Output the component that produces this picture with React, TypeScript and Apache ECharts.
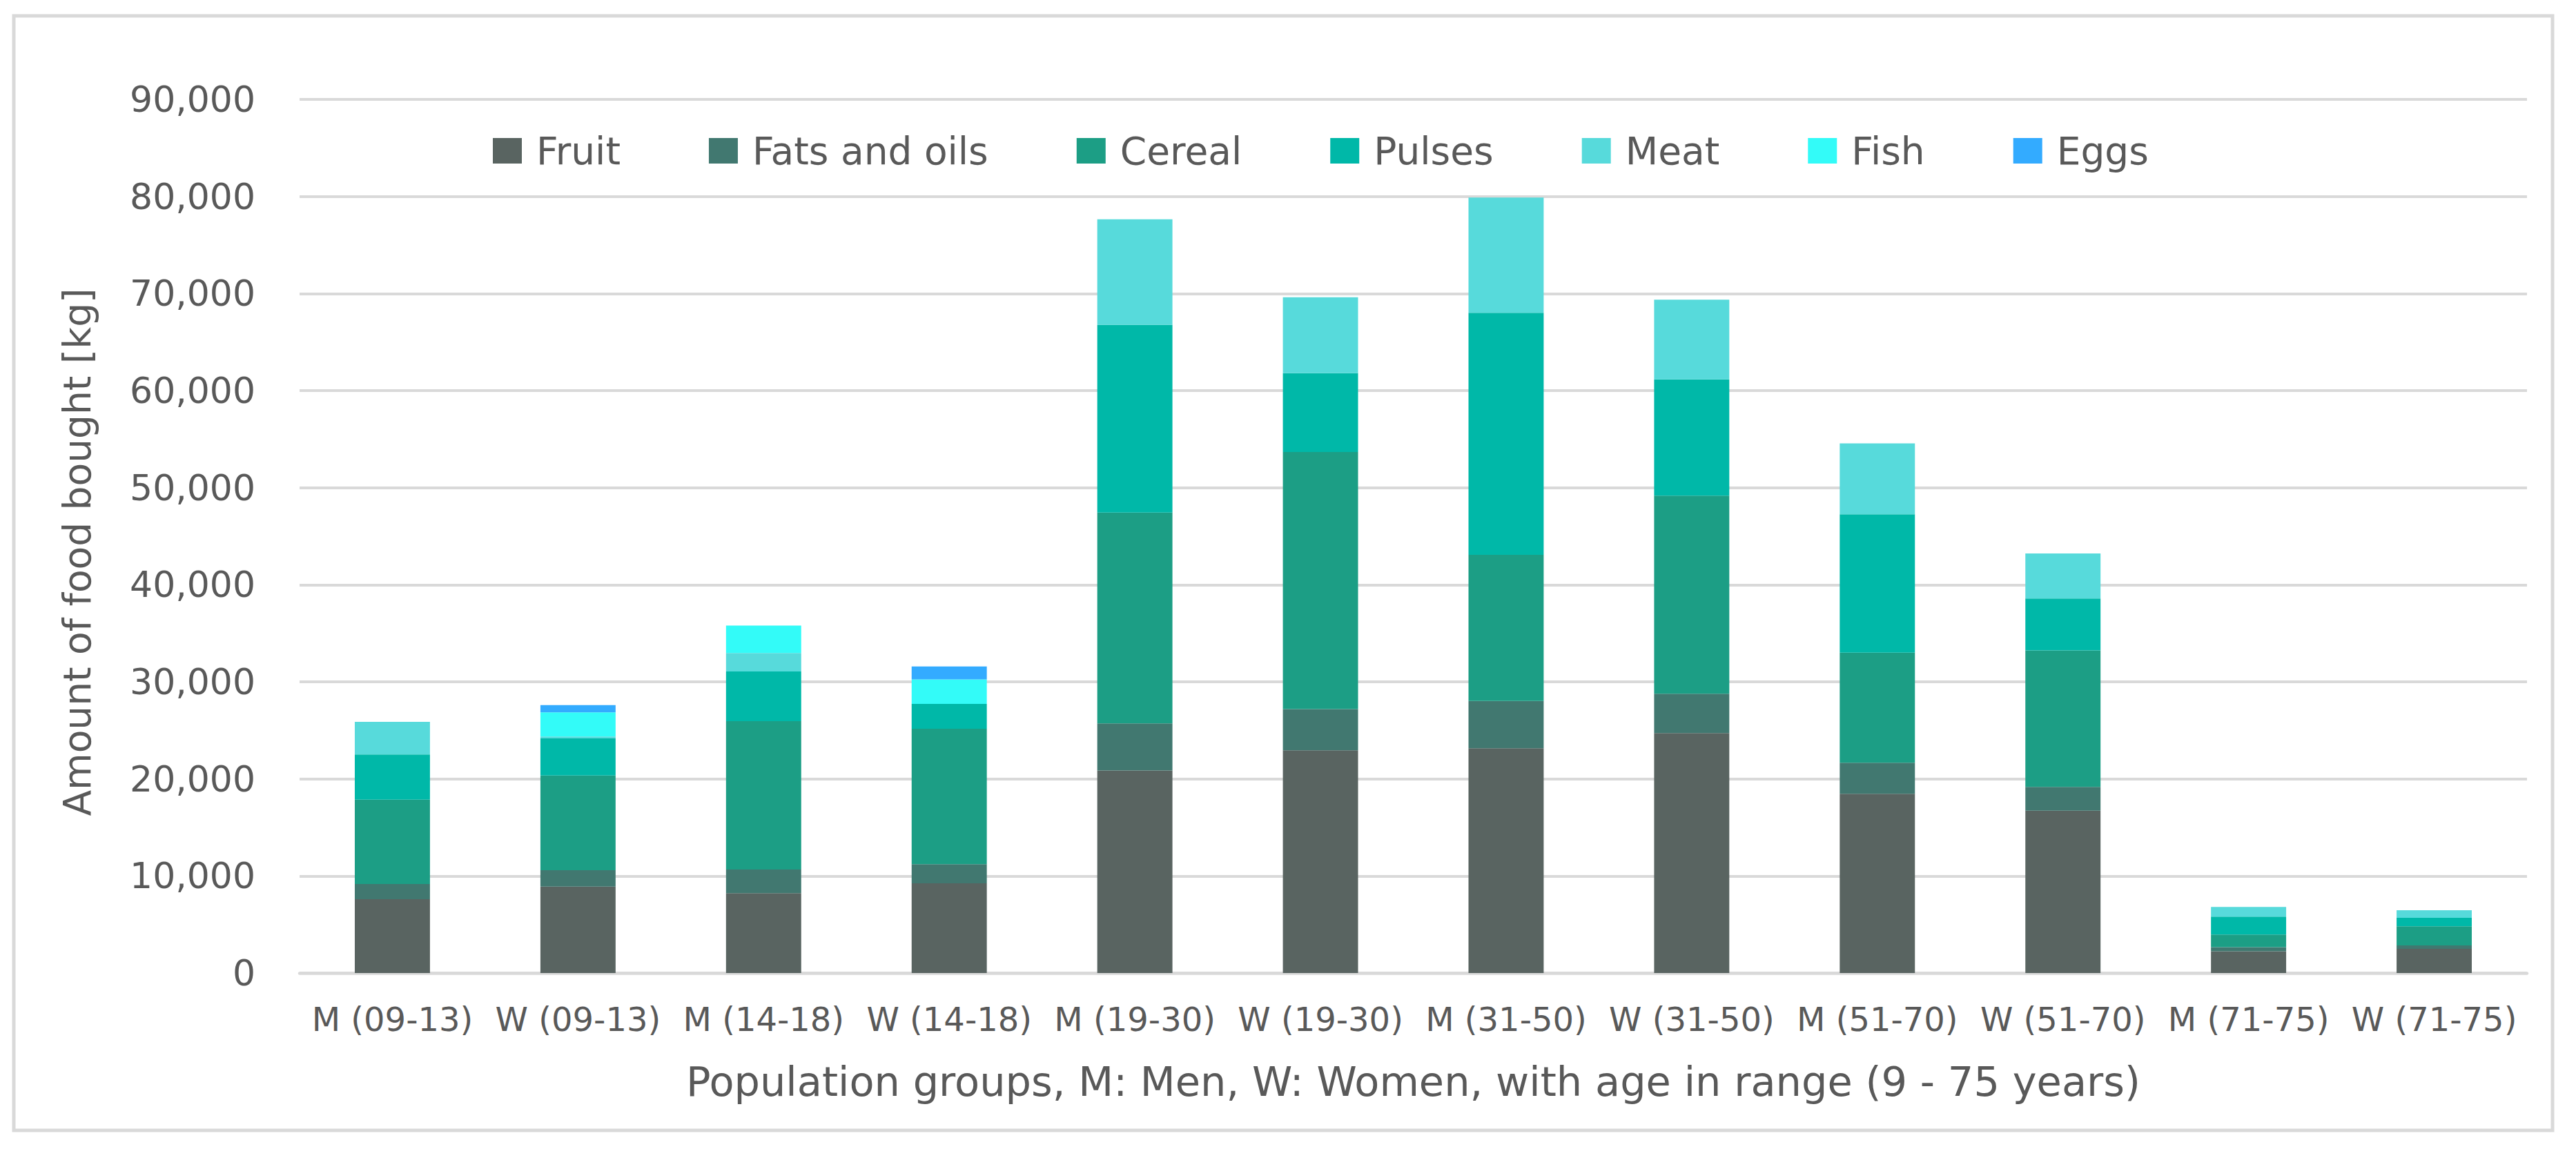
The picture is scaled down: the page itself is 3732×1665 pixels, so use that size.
import React, { useEffect, useRef } from "react";
import * as echarts from "echarts";

const categories = [
  "M (09-13)", "W (09-13)", "M (14-18)", "W (14-18)", "M (19-30)", "W (19-30)",
  "M (31-50)", "W (31-50)", "M (51-70)", "W (51-70)", "M (71-75)", "W (71-75)",
];
const fruit = [7600, 8900, 8230, 9250, 20870, 22950, 23150, 24720, 18470, 16730, 2240, 2480];
const fatsAndOils = [1570, 1690, 2440, 1970, 4840, 4250, 4880, 4060, 3190, 2440, 430, 360];
const cereal = [8700, 9760, 15280, 13940, 21730, 26470, 15050, 20390, 11340, 14060, 1300, 1970];
const pulses = [4650, 3820, 5120, 2560, 19340, 8130, 24940, 11980, 14250, 5360, 1850, 870];
const meat = [3350, 200, 1890, 0, 10860, 7820, 11870, 8210, 7320, 4640, 980, 790];
const fish = [0, 2480, 2830, 2520, 0, 0, 0, 0, 0, 0, 0, 0];
const eggs = [0, 750, 0, 1340, 0, 0, 0, 0, 0, 0, 0, 0];

const seriesNames = ["Fruit", "Fats and oils", "Cereal", "Pulses", "Meat", "Fish", "Eggs"];
const seriesData = [fruit, fatsAndOils, cereal, pulses, meat, fish, eggs];
const seriesColors = ["#596461", "#417870", "#1C9E85", "#00B8A8", "#57DADB", "#33FBF8", "#33ABFF"];

const yTicks = { min: 0, max: 90000, interval: 10000 };
const yTitle = "Amount of food bought [kg]";
const xTitle = "Population groups, M: Men, W: Women, with age in range (9 - 75 years)";

const FONT = "DejaVu Sans";
const TEXT = "#595959";
const GRID = "#D9D9D9";

export default function App() {
  const ref = useRef<HTMLDivElement>(null);
  useEffect(() => {
    if (!ref.current) return;
    const chart = echarts.init(ref.current, undefined, { renderer: "svg" });
    chart.setOption({
      animation: false,
      backgroundColor: "#ffffff",
      textStyle: { fontFamily: FONT },
      grid: { left: 434, right: 71, top: 144, bottom: 255, containLabel: false },
      legend: {
        data: seriesNames,
        left: 709,
        top: 186,
        icon: "rect",
        itemWidth: 42,
        itemHeight: 37,
        itemGap: 128,
        selectedMode: false,
        textStyle: { fontFamily: FONT, fontSize: 55, color: TEXT, padding: [0, 0, 0, 16] },
      },
      xAxis: {
        type: "category",
        data: categories,
        name: xTitle,
        nameLocation: "middle",
        nameGap: 128,
        nameTextStyle: { fontFamily: FONT, fontSize: 59, color: TEXT },
        axisLine: { show: true, lineStyle: { color: GRID, width: 4.5 } },
        axisTick: { show: false },
        axisLabel: { fontFamily: FONT, fontSize: 48, color: TEXT, margin: 43, interval: 0 },
      },
      yAxis: {
        type: "value",
        min: yTicks.min,
        max: yTicks.max,
        interval: yTicks.interval,
        axisLine: { show: false },
        axisTick: { show: false },
        splitLine: { lineStyle: { color: GRID, width: 4 } },
        axisLabel: {
          fontFamily: FONT,
          fontSize: 52,
          color: TEXT,
          margin: 64,
          formatter: (v: number) => v.toLocaleString("en-US"),
        },
      },
      graphic: [
        {
          type: "rect",
          shape: { x: 20, y: 23, width: 3678, height: 1615 },
          style: { fill: "none", stroke: GRID, lineWidth: 5 },
          silent: true,
          z: -1,
        },
        {
          type: "text",
          x: 112,
          y: 800,
          rotation: Math.PI / 2,
          style: {
            text: yTitle,
            font: `55px "${FONT}"`,
            fill: TEXT,
            align: "center",
            verticalAlign: "middle",
          },
        },
      ],
      series: seriesNames.map((name, i) => ({
        name,
        type: "bar",
        stack: "total",
        barWidth: "40.5%",
        data: seriesData[i],
        itemStyle: { color: seriesColors[i] },
      })),
    });
    return () => chart.dispose();
  }, []);
  return (
    <div
      ref={ref}
      style={{ position: "fixed", left: 0, top: 0, width: 3732, height: 1665, background: "#fff" }}
    />
  );
}
